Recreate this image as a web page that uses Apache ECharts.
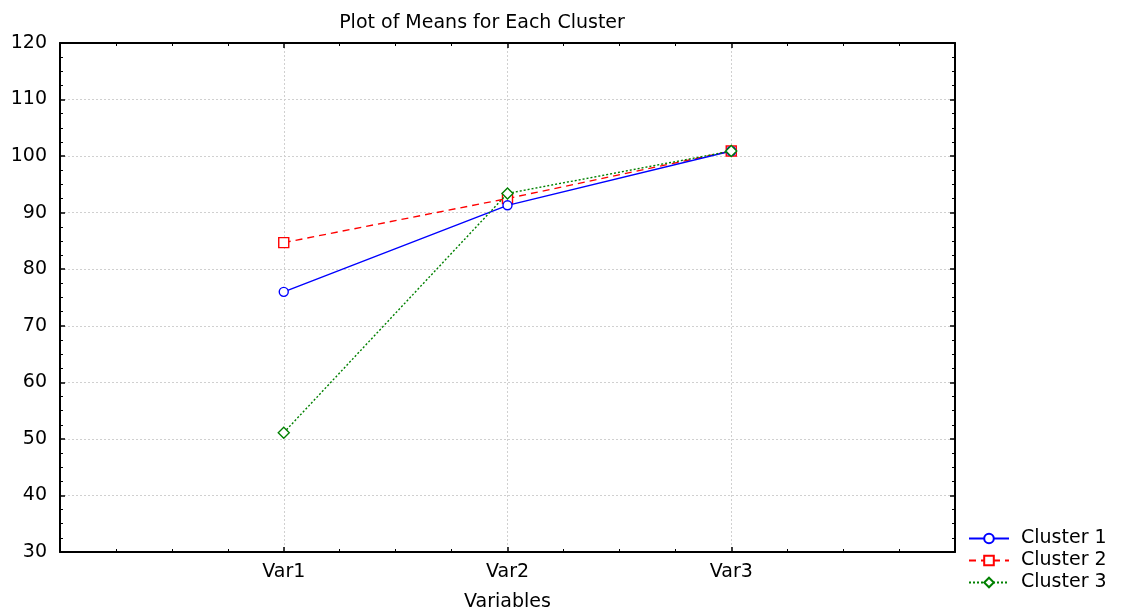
<!DOCTYPE html>
<html>
<head>
<meta charset="utf-8">
<script src="https://cdn.jsdelivr.net/npm/echarts@6/dist/echarts.min.js"></script>
<style>
html,body{margin:0;padding:0;background:#fff;}
#chart{width:1123px;height:612px;}
</style>
</head>
<body>
<div id="chart"></div>
<script>
const categories = ['Var1', 'Var2', 'Var3'];
const cluster1 = [76.0, 91.3, 100.9];
const cluster2 = [84.7, 92.5, 100.9];
const cluster3 = [51.1, 93.4, 100.9];
const seriesNames = ['Cluster 1', 'Cluster 2', 'Cluster 3'];

const FONT = '"DejaVu Sans", "Liberation Sans", Arial, sans-serif';
const FS = 19;
const toPoints = vals => vals.map((v, i) => [i + 1, v]);

const chart = echarts.init(document.getElementById('chart'), null, {renderer: 'canvas'});

const axisCommon = {
  axisLine: {show: true, onZero: false, lineStyle: {color: '#000', width: 2}},
  axisTick: {show: true, inside: true, length: 5, lineStyle: {color: '#000', width: 1.5}},
  minorTick: {show: true, splitNumber: 4, length: 3, lineStyle: {color: '#000', width: 1}}
};

const option = {
  backgroundColor: '#fff',
  animation: false,
  title: {
    text: 'Plot of Means for Each Cluster',
    left: 477, top: 9, textAlign: 'center',
    textStyle: {fontFamily: FONT, fontSize: FS, fontWeight: 'normal', color: '#000'}
  },
  grid: {left: 60, right: 168, top: 43, bottom: 60, containLabel: false, outerBoundsMode: 'none'},
  legend: {
    orient: 'vertical',
    left: 963, top: 524,
    itemWidth: 40, itemHeight: 12, itemGap: 3,
    data: seriesNames,
    textStyle: {fontFamily: FONT, fontSize: FS, color: '#000', padding: [0, 0, 0, 7]}
  },
  xAxis: [
    Object.assign({}, axisCommon, {
      type: 'value', min: 0, max: 4, interval: 1, position: 'bottom',
      axisLabel: {
        show: true, margin: 11, fontFamily: FONT, fontSize: FS, color: '#000',
        formatter: v => (v >= 1 && v <= categories.length) ? categories[v - 1] : ''
      },
      splitLine: {show: true, lineStyle: {color: '#d0d0d0', type: [2, 2], width: 1}},
      name: 'Variables', nameLocation: 'middle', nameGap: 41,
      nameTextStyle: {fontFamily: FONT, fontSize: FS, color: '#000'}
    }),
    Object.assign({}, axisCommon, {
      type: 'value', min: 0, max: 4, interval: 1, position: 'top',
      axisLabel: {show: false}, splitLine: {show: false}
    })
  ],
  yAxis: [
    Object.assign({}, axisCommon, {
      type: 'value', min: 30, max: 120, interval: 10, position: 'left',
      axisLabel: {show: true, margin: 13, fontFamily: FONT, fontSize: FS, color: '#000'},
      splitLine: {show: true, lineStyle: {color: '#d0d0d0', type: [2, 2], width: 1}}
    }),
    Object.assign({}, axisCommon, {
      type: 'value', min: 30, max: 120, interval: 10, position: 'right',
      axisLabel: {show: false}, splitLine: {show: false}
    })
  ],
  series: [
    {
      name: seriesNames[0], type: 'line', data: toPoints(cluster1),
      xAxisIndex: 0, yAxisIndex: 0,
      symbol: 'circle', symbolSize: 9,
      lineStyle: {color: '#0000ff', width: 1.4, type: 'solid'},
      itemStyle: {color: '#fff', borderColor: '#0000ff', borderWidth: 1.4},
      color: '#0000ff', z: 3
    },
    {
      name: seriesNames[1], type: 'line', data: toPoints(cluster2),
      xAxisIndex: 0, yAxisIndex: 0,
      symbol: 'rect', symbolSize: 10,
      lineStyle: {color: '#ff0000', width: 1.4, type: [7, 5]},
      itemStyle: {color: '#fff', borderColor: '#ff0000', borderWidth: 1.4},
      color: '#ff0000', z: 2
    },
    {
      name: seriesNames[2], type: 'line', data: toPoints(cluster3),
      xAxisIndex: 0, yAxisIndex: 0,
      symbol: 'diamond', symbolSize: 11,
      lineStyle: {color: '#008000', width: 1.4, type: [2, 2]},
      itemStyle: {color: '#fff', borderColor: '#008000', borderWidth: 1.4},
      color: '#008000', z: 4
    }
  ]
};
chart.setOption(option);
</script>
</body>
</html>
